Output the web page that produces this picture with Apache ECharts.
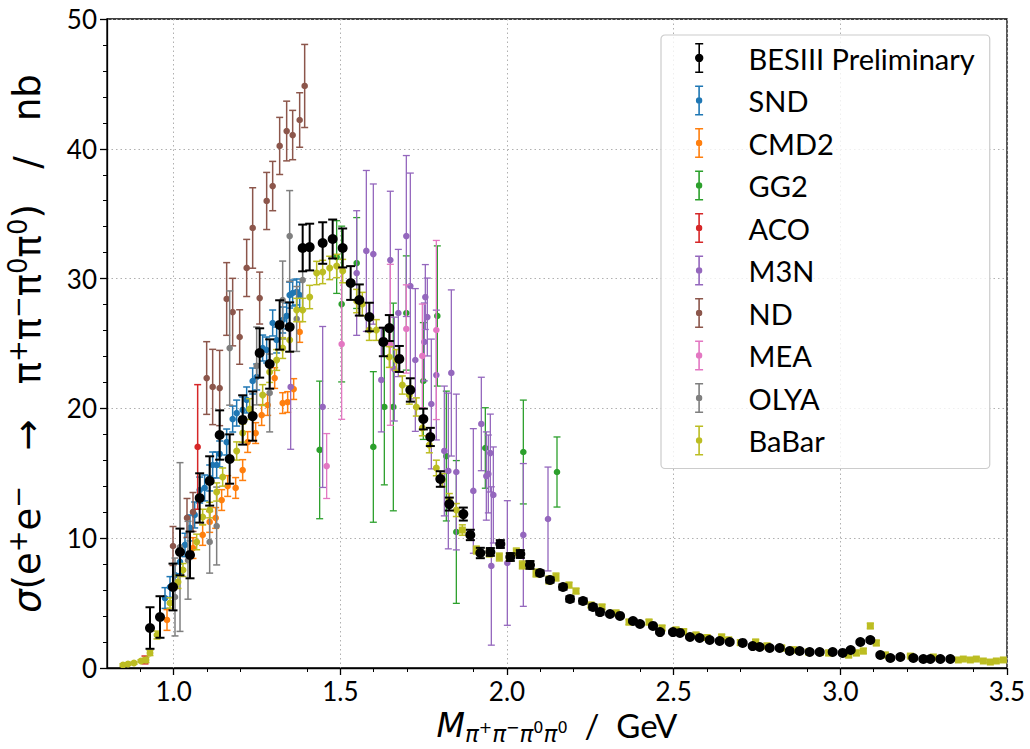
<!DOCTYPE html>
<html><head><meta charset="utf-8">
<script src="https://cdn.jsdelivr.net/npm/echarts@6/dist/echarts.min.js"></script>
<style>html,body{margin:0;padding:0;background:#fff}#c{width:1030px;height:749px}</style>
</head><body><div id="c"></div>
<script>
// Each point: [mass GeV, sigma nb, error nb]
const besiii = [[0.929,3.08,1.6],[0.959,3.93,1.6],[0.998,6.24,1.8],[1.019,8.94,1.8],[1.049,8.71,1.8],[1.078,13.10,1.9],[1.108,14.41,1.9],[1.138,17.95,1.9],[1.168,16.10,1.9],[1.207,19.11,1.9],[1.237,19.41,1.9],[1.258,24.27,1.9],[1.288,23.42,1.9],[1.318,26.43,1.9],[1.348,26.27,1.9],[1.387,32.36,1.8],[1.408,32.43,1.8],[1.447,32.74,1.6],[1.477,33.05,1.5],[1.507,32.36,1.5],[1.531,29.66,1.3],[1.557,28.35,1.2],[1.587,27.04,1.1],[1.629,25.12,1.1],[1.647,26.19,1.0],[1.677,23.81,1.0],[1.710,21.42,0.9],[1.749,19.18,0.8],[1.770,17.80,0.7],[1.800,14.56,0.6],[1.827,12.63,0.5],[1.869,11.86,0.5],[1.890,10.25,0.4],[1.920,8.86,0.4],[1.950,8.94,0.3],[1.980,9.55,0.3],[2.010,8.55,0.3],[2.040,8.78,0.3],[2.069,7.94,0.3],[2.099,7.32,0.2],[2.129,6.78,0.2],[2.168,6.24,0.2],[2.189,5.32,0.2],[2.228,5.16,0.2],[2.258,4.70,0.2],[2.279,4.31,0.2],[2.309,4.16,0.1],[2.339,4.01,0.1],[2.378,3.62,0.1],[2.399,3.39,0.1],[2.438,3.24,0.1],[2.459,2.77,0.1],[2.498,2.77,0.1],[2.519,2.70,0.1],[2.549,2.39,0.1],[2.578,2.31,0.1],[2.608,2.16,0.1],[2.638,2.08,0.1],[2.668,2.00,0.1],[2.707,1.93,0.1],[2.737,1.69,0.1],[2.758,1.62,0.1],[2.788,1.54,0.1],[2.818,1.54,0.1],[2.848,1.31,0.1],[2.878,1.31,0.1],[2.908,1.23,0.1],[2.938,1.23,0.1],[2.977,1.23,0.1],[3.007,1.16,0.1],[3.031,1.39,0.1],[3.060,2.00,0.1],[3.090,2.16,0.1],[3.120,1.00,0.1],[3.150,0.77,0.1],[3.180,0.85,0.1],[3.219,0.77,0.1],[3.249,0.69,0.1],[3.270,0.69,0.1],[3.300,0.69,0.1],[3.330,0.69,0.1]];
const snd = [[0.974,5.39,0.8],[0.989,6.24,0.8],[1.004,7.16,0.9],[1.019,8.17,0.9],[1.034,9.48,0.9],[1.049,10.79,1.0],[1.063,11.79,1.0],[1.078,13.71,1.0],[1.093,13.87,1.0],[1.108,14.64,1.0],[1.117,15.64,1.0],[1.129,15.64,1.0],[1.138,16.49,1.0],[1.159,17.41,1.0],[1.177,19.18,1.0],[1.189,19.64,1.0],[1.207,19.88,1.0],[1.219,20.65,1.0],[1.237,22.11,1.0],[1.249,22.42,1.0],[1.267,24.65,1.0],[1.279,24.50,1.0],[1.297,26.58,1.0],[1.309,25.27,1.0],[1.327,26.81,1.0],[1.339,27.12,1.0],[1.348,28.73,1.0],[1.357,28.89,1.0],[1.369,28.97,1.0],[1.378,28.73,1.0]];
const cmd2 = [[0.980,3.70,0.8],[1.058,9.24,0.8],[1.087,10.25,0.8],[1.108,11.25,0.8],[1.126,11.56,0.8],[1.144,12.94,0.8],[1.162,14.02,0.8],[1.186,13.87,0.8],[1.207,15.25,0.8],[1.222,17.41,0.8],[1.246,18.10,0.8],[1.264,19.49,0.8],[1.282,20.26,0.8],[1.303,22.34,0.8],[1.327,20.41,0.8],[1.342,20.49,0.8],[1.360,21.49,0.8],[1.378,25.89,0.8]];
const gg2 = [[1.438,16.80,5.3],[1.489,31.66,2.8],[1.504,28.04,6.0],[1.549,31.20,3.5],[1.599,17.03,5.8],[1.632,20.11,6.0],[1.659,20.11,8.0],[1.698,27.35,4.4],[1.749,22.11,4.5],[1.791,27.12,5.4],[1.818,16.33,5.0],[1.848,10.48,5.5],[1.935,16.95,3.1],[2.049,16.64,4.0],[2.150,15.10,2.7]];
const aco = [[0.914,0.62,0.3],[1.072,17.03,4.8]];
const m3n = [[1.351,21.65,4.8],[1.447,20.11,6.2],[1.549,30.43,4.8],[1.578,32.13,6.2],[1.599,31.89,5.4],[1.623,22.19,4.0],[1.650,31.43,5.3],[1.662,23.03,4.0],[1.674,27.35,4.9],[1.698,33.28,6.2],[1.710,29.43,8.7],[1.725,23.73,5.5],[1.752,25.12,3.0],[1.755,28.58,2.5],[1.761,27.04,3.0],[1.773,20.34,5.0],[1.788,22.57,5.0],[1.812,16.72,5.0],[1.824,15.18,6.0],[1.833,22.73,6.4],[1.848,15.10,6.0],[1.899,13.64,4.8],[1.923,18.80,3.6],[1.938,14.79,3.4],[1.944,14.95,3.0],[1.950,16.56,3.0],[1.953,7.86,6.1],[1.959,13.33,3.7],[2.001,8.09,4.8],[2.049,10.25,5.5],[2.123,11.48,4.0]];
const nd = [[0.998,9.40,1.5],[1.040,11.56,1.5],[1.058,12.02,1.5],[1.099,22.34,2.8],[1.117,21.65,2.9],[1.138,21.57,2.9],[1.159,28.43,2.8],[1.177,27.42,2.6],[1.198,25.50,2.1],[1.219,30.82,2.2],[1.237,33.90,3.1],[1.258,28.50,2.0],[1.279,35.98,2.2],[1.297,37.13,1.9],[1.318,40.22,2.2],[1.339,41.37,2.3],[1.357,41.06,1.9],[1.378,42.22,2.1],[1.393,44.84,3.2]];
const mea = [[1.459,15.56,2.5],[1.504,24.96,5.8],[1.650,24.90,6.2],[1.698,26.12,3.4],[1.746,24.04,4.0],[1.788,26.04,6.9]];
const olya = [[1.004,5.47,3.0],[1.019,9.32,6.5],[1.043,8.30,3.0],[1.108,9.71,2.4],[1.129,10.94,3.0],[1.168,24.65,4.4],[1.249,23.27,3.0],[1.288,21.19,3.0],[1.327,28.35,3.0],[1.348,33.28,3.5],[1.369,26.89,2.5],[1.387,29.89,2.3]];
const babar = [[0.848,0.23,0.1],[0.863,0.31,0.1],[0.881,0.39,0.1],[0.902,0.54,0.1],[0.917,0.62,0.2],[0.929,1.16,0.2],[0.950,2.54,0.3],[0.989,5.01,0.4],[1.013,6.63,0.5],[1.028,7.55,0.5],[1.069,9.71,0.6],[1.087,11.63,0.6],[1.108,12.17,0.6],[1.129,13.56,0.7],[1.147,14.71,0.7],[1.189,16.72,0.7],[1.207,18.10,0.7],[1.228,19.95,0.8],[1.267,21.03,0.8],[1.288,22.80,0.8],[1.309,23.73,0.8],[1.327,24.65,0.8],[1.348,25.27,0.9],[1.369,27.58,0.9],[1.387,27.58,0.9],[1.408,28.58,0.9],[1.429,30.43,0.9],[1.447,30.51,0.9],[1.468,30.82,0.9],[1.489,30.97,0.9],[1.507,30.58,0.9],[1.549,28.27,0.9],[1.566,28.04,0.9],[1.587,26.04,0.8],[1.608,26.04,0.8],[1.647,23.96,0.8],[1.668,23.73,0.8],[1.686,21.80,0.7],[1.707,21.03,0.7],[1.728,20.11,0.7],[1.746,18.49,0.6],[1.767,17.18,0.6],[1.788,15.41,0.6],[1.806,14.48,0.5],[1.827,12.94,0.5],[1.848,12.17,0.5],[1.866,10.63,0.4],[1.908,9.09,0.3],[1.947,8.86,0.3],[1.977,8.55,0.3],[2.007,8.55,0.3],[2.028,8.94,0.3],[2.046,7.94,0.3],[2.087,7.32,0.3],[2.126,6.78,0.3],[2.147,7.01,0.3],[2.186,6.39,0.2],[2.207,5.93,0.2],[2.252,4.85,0.2],[2.285,4.70,0.2],[2.327,4.24,0.2],[2.366,3.54,0.2],[2.426,3.54,0.2],[2.465,3.08,0.2],[2.507,2.93,0.2],[2.530,2.80,0.2],[2.567,2.54,0.2],[2.600,2.35,0.2],[2.644,2.39,0.2],[2.665,2.16,0.2],[2.700,1.95,0.2],[2.746,2.00,0.2],[2.780,1.70,0.2],[2.824,1.54,0.2],[2.860,1.40,0.2],[2.905,1.23,0.2],[2.940,1.20,0.2],[2.965,1.16,0.2],[3.025,1.00,0.2],[3.048,1.16,0.2],[3.069,1.31,0.2],[3.090,3.24,0.2],[3.108,1.93,0.2],[3.135,1.00,0.2],[3.210,0.92,0.1],[3.279,0.85,0.1],[3.354,0.62,0.1],[3.369,0.69,0.1],[3.390,0.62,0.1],[3.408,0.69,0.1],[3.429,0.54,0.1],[3.450,0.46,0.1],[3.468,0.54,0.1],[3.489,0.62,0.1]];

const xTicks = [1.0, 1.5, 2.0, 2.5, 3.0, 3.5];
const yTicks = [0, 10, 20, 30, 40, 50];

const FONT = 'Lato, "DejaVu Sans", sans-serif';
const MFONT = '"DejaVu Sans", Lato, sans-serif';

function renderer(color, r, capHalf, lw, squareAbove) {
  return function (params, api) {
    const x = api.value(0), y = api.value(1), e = api.value(2);
    const p = api.coord([x, y]);
    const t = api.coord([x, y + e]);
    const b = api.coord([x, y - e]);
    const children = [];
    const ls = { stroke: color, lineWidth: lw };
    children.push({ type: 'line', shape: { x1: p[0], y1: t[1], x2: p[0], y2: b[1] }, style: ls });
    children.push({ type: 'line', shape: { x1: p[0] - capHalf, y1: t[1], x2: p[0] + capHalf, y2: t[1] }, style: ls });
    children.push({ type: 'line', shape: { x1: p[0] - capHalf, y1: b[1], x2: p[0] + capHalf, y2: b[1] }, style: ls });
    if (squareAbove != null && x >= squareAbove) {
      children.push({ type: 'rect', shape: { x: p[0] - r, y: p[1] - r, width: 2 * r, height: 2 * r }, style: { fill: color } });
    } else {
      children.push({ type: 'circle', shape: { cx: p[0], cy: p[1], r: r }, style: { fill: color } });
    }
    return { type: 'group', children: children };
  };
}

const seriesDefs = [
  { name: 'BESIII Preliminary', data: besiii, color: '#000000', r: 5, cap: 4.5, lw: 2, z: 20 },
  { name: 'SND', data: snd, color: '#1f77b4', r: 3.3, cap: 3.5, lw: 1.5, z: 2 },
  { name: 'CMD2', data: cmd2, color: '#ff7f0e', r: 3.3, cap: 3.5, lw: 1.5, z: 3 },
  { name: 'GG2', data: gg2, color: '#2ca02c', r: 3.3, cap: 3.5, lw: 1.3, z: 4 },
  { name: 'ACO', data: aco, color: '#d62728', r: 3.3, cap: 3.5, lw: 1.5, z: 5 },
  { name: 'M3N', data: m3n, color: '#9467bd', r: 3.3, cap: 3.5, lw: 1.3, z: 6 },
  { name: 'ND', data: nd, color: '#8c564b', r: 3.3, cap: 3.5, lw: 1.5, z: 7 },
  { name: 'MEA', data: mea, color: '#e377c2', r: 3.3, cap: 3.5, lw: 1.3, z: 8 },
  { name: 'OLYA', data: olya, color: '#7f7f7f', r: 3.3, cap: 3.5, lw: 1.5, z: 9 },
  { name: 'BaBar', data: babar, color: '#bcbd22', r: 3.5, cap: 3.5, lw: 1.5, z: 10, square: 1.85 }
];

function legendIcon(r) {
  const cy = 15;
  return 'path://M3,0h8v1.6h-8z M6.2,0h1.6v30h-1.6z M3,28.4h8v1.6h-8z ' +
    'M' + (7 + r) + ',' + cy + 'a' + r + ',' + r + ' 0 1,1 ' + (-2 * r) + ',0a' + r + ',' + r + ' 0 1,1 ' + (2 * r) + ',0z ' +
    'M50,15L50,15.01L50,15z';
}

const TX = 33, SX = 23, SSX = 16;
const TY = 37, SY = 26;
const chart = echarts.init(document.getElementById('c'), null, { renderer: 'svg' });
chart.setOption({
  animation: false,
  backgroundColor: '#fff',
  color: seriesDefs.map(s => s.color),
  grid: { left: 107, right: 23, top: 19, bottom: 81, outerBoundsMode: 'none', containLabel: false, show: true, borderColor: '#000', borderWidth: 1.3, backgroundColor: 'transparent' },
  xAxis: {
    type: 'value', min: 0.8, max: 3.5, interval: 0.5,
    name: '{m|M}{s|π}{ss|+}{s|π}{ss|−}{s|π}{ss|0}{s|π}{ss|0}{n|  /  GeV}',
    nameLocation: 'middle', nameGap: 30,
    nameTextStyle: { fontFamily: FONT, color: '#000', rich: {
      m: { fontSize: TX, fontStyle: 'italic', fontFamily: MFONT, color: '#000' },
      s: { fontSize: SX, fontFamily: MFONT, fontStyle: 'italic', color: '#000', padding: [18, 0, 0, 0] },
      ss: { fontSize: SSX, fontFamily: MFONT, color: '#000', padding: [4, 0, 0, 0] },
      n: { fontSize: TX, fontFamily: FONT, color: '#000' } } },
    axisLine: { show: true, lineStyle: { color: '#000', width: 1.3 } },
    axisTick: { show: true, length: 7, lineStyle: { color: '#000', width: 1.3 }, customValues: xTicks },
    minorTick: { show: true, splitNumber: 5, length: 4, lineStyle: { color: '#000', width: 1 } },
    axisLabel: { fontFamily: FONT, fontSize: 26, color: '#000', margin: 10, customValues: xTicks, formatter: v => v.toFixed(1) },
    splitLine: { show: true, lineStyle: { color: '#b0b0b0', type: [1.5, 3], width: 1 } },
    minorSplitLine: { show: false }
  },
  yAxis: {
    type: 'value', min: 0, max: 50, interval: 10,
    name: '{g|σ}{n|(e}{p|+}{n|e}{p|−}{n|   →   π}{p|+}{n|π}{p|−}{n|π}{p|0}{n|π}{p|0}{n|)   /   nb}',
    nameLocation: 'middle', nameGap: 58, nameRotate: 90,
    nameTextStyle: { fontFamily: FONT, color: '#000', rich: {
      g: { fontSize: TY, fontStyle: 'italic', fontFamily: MFONT, color: '#000' },
      p: { fontSize: SY, fontFamily: MFONT, color: '#000', padding: [0, 0, 18, 0] },
      n: { fontSize: TY, fontFamily: MFONT, color: '#000' } } },
    axisLine: { show: true, lineStyle: { color: '#000', width: 1.3 } },
    axisTick: { show: true, length: 7, lineStyle: { color: '#000', width: 1.3 } },
    minorTick: { show: true, splitNumber: 5, length: 4, lineStyle: { color: '#000', width: 1 } },
    axisLabel: { fontFamily: FONT, fontSize: 26, color: '#000', margin: 10 },
    splitLine: { show: true, lineStyle: { color: '#b0b0b0', type: [1.5, 3], width: 1 } }
  },
  legend: {
    orient: 'vertical', left: 661, top: 35,
    itemWidth: 50, itemHeight: 30, itemGap: 12.5,
    padding: [8, 15, 13, 34],
    backgroundColor: 'rgba(255,255,255,0.8)', borderColor: '#cccccc', borderWidth: 1.2, borderRadius: 4,
    textStyle: { fontFamily: FONT, fontSize: 29, color: '#000' },
    selectedMode: false,
    data: seriesDefs.map(s => ({ name: s.name, icon: legendIcon(s.r >= 5 ? 4.2 : 3.2), itemStyle: { color: s.color } }))
  },
  series: seriesDefs.map(s => ({
    type: 'custom', name: s.name, data: s.data, z: s.z, clip: true,
    encode: { x: 0, y: 1 },
    itemStyle: { color: s.color },
    renderItem: renderer(s.color, s.r, s.cap, s.lw, s.square)
  }))
});
</script></body></html>
